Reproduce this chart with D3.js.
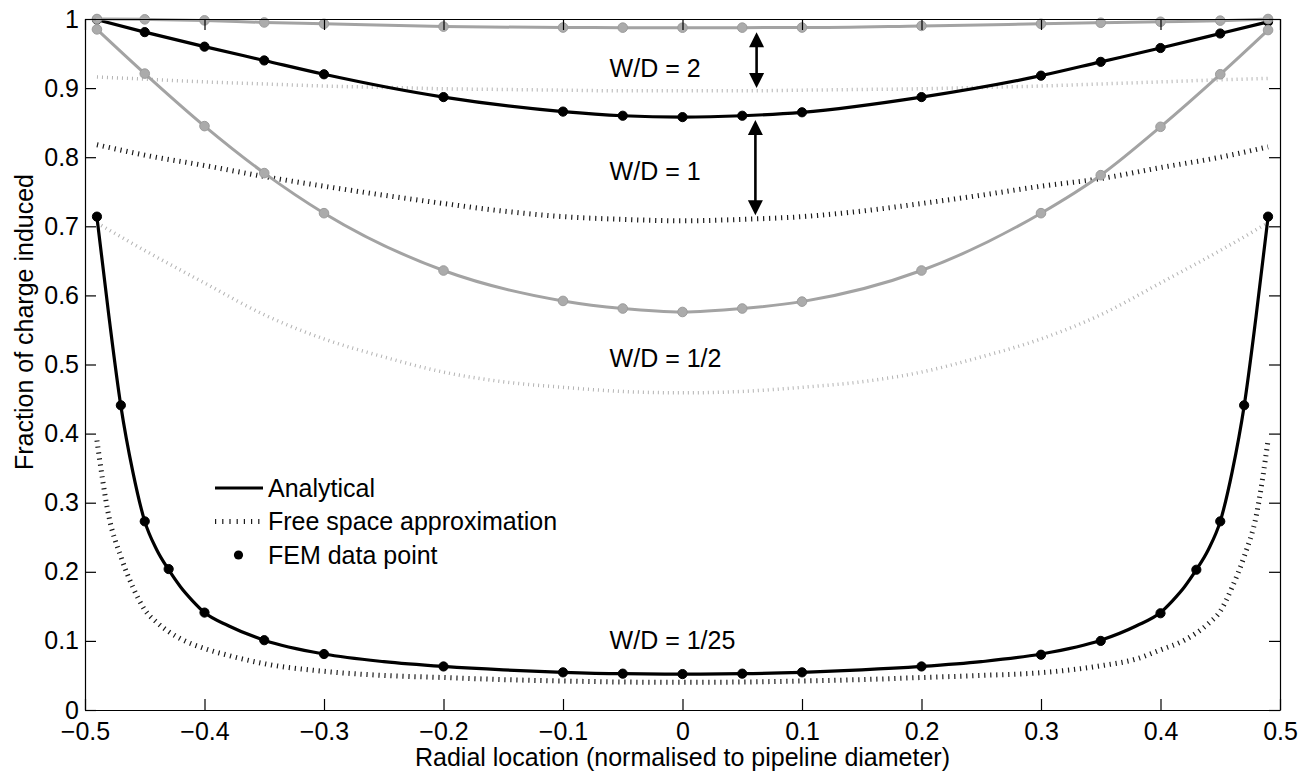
<!DOCTYPE html>
<html><head><meta charset="utf-8">
<script src="https://cdn.jsdelivr.net/npm/d3@7"></script>
<style>
body{margin:0;background:#fff}
svg text{font-family:"Liberation Sans",Arial,Helvetica,sans-serif}
</style>
</head><body>
<svg id="chart" width="1303" height="772"></svg>
<script>
// ---------- axis ticks ----------
const xTickValues = [-0.5,-0.4,-0.3,-0.2,-0.1,0,0.1,0.2,0.3,0.4,0.5];
const xTickLabels = ["\u22120.5","\u22120.4","\u22120.3","\u22120.2","\u22120.1","0","0.1","0.2","0.3","0.4","0.5"];
const yTickValues = [0,0.1,0.2,0.3,0.4,0.5,0.6,0.7,0.8,0.9,1];
const yTickLabels = ["0","0.1","0.2","0.3","0.4","0.5","0.6","0.7","0.8","0.9","1"];

// ---------- W/D = 2 (grey) ----------
const wd2X        = [-0.49,-0.45,-0.4,-0.35,-0.3,-0.2,-0.1,-0.05,0,0.05,0.1,0.2,0.3,0.35,0.4,0.45,0.49];
const wd2Analytic = [1.0,0.9995,0.998,0.995,0.993,0.989,0.9876,0.9875,0.9874,0.9875,0.9876,0.990,0.993,0.9946,0.996,0.9976,1.0];
const fsX         = [-0.49,-0.45,-0.4,-0.35,-0.3,-0.25,-0.2,-0.15,-0.1,-0.05,0,0.05,0.1,0.15,0.2,0.25,0.3,0.35,0.4,0.45,0.49];
const wd2Free     = [0.916,0.913,0.909,0.906,0.903,0.901,0.899,0.898,0.897,0.896,0.896,0.896,0.897,0.898,0.899,0.901,0.903,0.906,0.909,0.912,0.914];

// ---------- W/D = 1 (black) ----------
const wd1X        = [-0.49,-0.45,-0.4,-0.35,-0.3,-0.2,-0.1,-0.05,0,0.05,0.1,0.2,0.3,0.35,0.4,0.45,0.49];
const wd1Analytic = [0.999,0.981,0.960,0.940,0.920,0.887,0.866,0.860,0.858,0.860,0.865,0.887,0.918,0.938,0.958,0.979,0.996];
const wd1Free     = [0.818,0.803,0.788,0.772,0.758,0.745,0.733,0.722,0.714,0.710,0.708,0.710,0.714,0.722,0.733,0.745,0.758,0.769,0.785,0.800,0.815];

// ---------- W/D = 1/2 (grey) ----------
const wd05X        = [-0.49,-0.45,-0.4,-0.35,-0.3,-0.2,-0.1,-0.05,0,0.05,0.1,0.2,0.3,0.35,0.4,0.45,0.49];
const wd05Analytic = [0.985,0.921,0.845,0.777,0.719,0.636,0.592,0.581,0.576,0.581,0.591,0.636,0.719,0.774,0.844,0.920,0.984];
const wd05Free     = [0.705,0.665,0.618,0.572,0.537,0.511,0.489,0.475,0.467,0.461,0.459,0.461,0.467,0.475,0.489,0.511,0.537,0.572,0.618,0.665,0.705];

// ---------- W/D = 1/25 (black) ----------
const wd25LineX    = [-0.49,-0.48,-0.47,-0.46,-0.45,-0.44,-0.43,-0.42,-0.41,-0.4,-0.38,-0.35,-0.3,-0.25,-0.2,-0.15,-0.1,-0.05,0,0.05,0.1,0.15,0.2,0.25,0.3,0.35,0.38,0.4,0.41,0.42,0.43,0.44,0.45,0.46,0.47,0.48,0.49];
const wd25Analytic = [0.713,0.57,0.44,0.345,0.273,0.232,0.203,0.178,0.158,0.141,0.122,0.101,0.081,0.070,0.063,0.058,0.0545,0.0525,0.052,0.0525,0.0545,0.058,0.063,0.070,0.081,0.101,0.122,0.141,0.158,0.178,0.203,0.232,0.273,0.345,0.44,0.57,0.713];
const wd25FreeX    = [-0.49,-0.48,-0.47,-0.46,-0.45,-0.44,-0.42,-0.4,-0.38,-0.35,-0.3,-0.25,-0.2,-0.15,-0.1,-0.05,0,0.05,0.1,0.15,0.2,0.25,0.3,0.35,0.38,0.4,0.42,0.44,0.45,0.46,0.47,0.48,0.49];
const wd25Free     = [0.39,0.28,0.222,0.178,0.145,0.127,0.103,0.089,0.079,0.067,0.056,0.050,0.047,0.044,0.042,0.0405,0.040,0.0405,0.042,0.044,0.047,0.050,0.054,0.064,0.074,0.087,0.101,0.125,0.143,0.178,0.222,0.28,0.39];
const wd25FemX     = [-0.49,-0.47,-0.45,-0.43,-0.4,-0.35,-0.3,-0.2,-0.1,-0.05,0,0.05,0.1,0.2,0.3,0.35,0.4,0.43,0.45,0.47,0.49];
const wd25Fem      = [0.714,0.441,0.273,0.204,0.141,0.101,0.081,0.063,0.0545,0.0526,0.052,0.0526,0.0545,0.063,0.08,0.1,0.14,0.203,0.273,0.441,0.714];

// ---------- annotations ----------
const labelTexts = ["W/D = 2","W/D = 1","W/D = 1/2","W/D = 1/25"];
const labelX     = [-0.061,-0.061,-0.061,-0.061];
const labelY     = [0.9155,0.767,0.497,0.088];
const arrowX     = [0.062,0.061];
const arrowTop   = [0.981,0.854];
const arrowBot   = [0.900,0.716];
const legendLabels = ["Analytical","Free space approximation","FEM data point"];

// ---------- layout ----------
const W = 1303, H = 772;
const M = {left:85, right:1280, top:19, bottom:710};
const FONT = 25;
const svg = d3.select("#chart");
const x = d3.scaleLinear().domain([-0.5,0.5]).range([M.left,M.right]);
const y = d3.scaleLinear().domain([0,1]).range([M.bottom,M.top]);
const zip = (xs,ys)=>xs.map((v,i)=>[v,ys[i]]);
const line = d3.line().x(d=>x(d[0])).y(d=>y(d[1])).curve(d3.curveMonotoneX);

const GREY = "#a3a3a3", GREY_DOT = "#b3b3b3", GREY_MARK = "#9c9c9c";

// free space approximations (dotted)
function dotted(data, color, width, dash){
  svg.append("path").datum(data).attr("d",line)
    .attr("fill","none").attr("stroke",color).attr("stroke-width",width)
    .attr("stroke-dasharray",dash);
}
dotted(zip(fsX,wd2Free), GREY_DOT, 3.5, "1,4");
dotted(zip(fsX,wd05Free), GREY_DOT, 3.5, "1,4");
dotted(zip(fsX,wd1Free), "#1a1a1a", 5, "1.2,4.8");
dotted(zip(wd25FreeX,wd25Free), "#1a1a1a", 5, "1.2,4.8");

// analytical lines
function solid(data,color,width){
  svg.append("path").datum(data).attr("d",line)
    .attr("fill","none").attr("stroke",color).attr("stroke-width",width)
    .attr("stroke-linejoin","round");
}
solid(zip(wd1X,wd1Analytic),"#000",3.2);
solid(zip(wd25LineX,wd25Analytic),"#000",3.2);
solid(zip(wd05X,wd05Analytic),GREY,3);
solid(zip(wd2X,wd2Analytic),GREY,3);

// markers
function markers(data,fill,stroke,r){
  svg.append("g").selectAll("circle").data(data).join("circle")
    .attr("cx",d=>x(d[0])).attr("cy",d=>y(d[1])).attr("r",r)
    .attr("fill",fill).attr("stroke",stroke).attr("stroke-width",1);
}
markers(zip(wd1X,wd1Analytic),"#000","#000",4.6);
markers(zip(wd25FemX,wd25Fem),"#000","#000",4.6);
markers(zip(wd05X,wd05Analytic),"#ababab",GREY_MARK,4.8);
markers(zip(wd2X,wd2Analytic),"#ababab",GREY_MARK,4.8);

// axes box with inward ticks
const TL = 11;
function styleAxis(g){
  g.selectAll("path.domain").attr("stroke","#000").attr("stroke-width",1.2);
  g.selectAll(".tick line").attr("stroke","#000").attr("stroke-width",1.2);
  g.selectAll("text").attr("font-size",FONT).attr("fill","#000")
    .attr("font-family","'Liberation Sans',Arial,Helvetica,sans-serif");
}
svg.append("g").attr("transform",`translate(0,${M.bottom})`)
  .call(d3.axisBottom(x).tickValues(xTickValues).tickSizeInner(-TL).tickSizeOuter(0)
    .tickPadding(12).tickFormat((d,i)=>xTickLabels[i])).call(styleAxis);
svg.append("g").attr("transform",`translate(0,${M.top})`)
  .call(d3.axisTop(x).tickValues(xTickValues).tickSizeInner(-TL).tickSizeOuter(0)
    .tickFormat(()=>"")).call(styleAxis);
svg.append("g").attr("transform",`translate(${M.left},0)`)
  .call(d3.axisLeft(y).tickValues(yTickValues).tickSizeInner(-TL).tickSizeOuter(0)
    .tickPadding(6).tickFormat((d,i)=>yTickLabels[i])).call(styleAxis);
svg.append("g").attr("transform",`translate(${M.right},0)`)
  .call(d3.axisRight(y).tickValues(yTickValues).tickSizeInner(-TL).tickSizeOuter(0)
    .tickFormat(()=>"")).call(styleAxis);

// axis titles
svg.append("text").attr("x",(M.left+M.right)/2).attr("y",766)
  .attr("text-anchor","middle").attr("font-size",FONT).text("Radial location (normalised to pipeline diameter)");
svg.append("text").attr("transform","translate(33,322) rotate(-90)")
  .attr("text-anchor","middle").attr("font-size",FONT).text("Fraction of charge induced");

// W/D labels
labelTexts.forEach((t,i)=>{
  svg.append("text").attr("x",x(labelX[i])).attr("y",y(labelY[i]))
    .attr("font-size",FONT).attr("fill","#000").text(t);
});

// double arrows
const AH = 15, AW = 7.5;
arrowX.forEach((ax,i)=>{
  const px = x(ax), y1 = y(arrowTop[i]), y2 = y(arrowBot[i]);
  svg.append("line").attr("x1",px).attr("x2",px).attr("y1",y1+AH-2).attr("y2",y2-AH+2)
    .attr("stroke","#000").attr("stroke-width",2.6);
  svg.append("path").attr("d",`M${px},${y1} L${px-AW},${y1+AH} L${px+AW},${y1+AH} Z`).attr("fill","#000");
  svg.append("path").attr("d",`M${px},${y2} L${px-AW},${y2-AH} L${px+AW},${y2-AH} Z`).attr("fill","#000");
});

// legend
const lg = svg.append("g");
const rows = [488,521.5,555];
lg.append("line").attr("x1",215).attr("x2",263).attr("y1",rows[0]).attr("y2",rows[0])
  .attr("stroke","#000").attr("stroke-width",3.2);
lg.append("line").attr("x1",215).attr("x2",263).attr("y1",rows[1]).attr("y2",rows[1])
  .attr("stroke","#1a1a1a").attr("stroke-width",5).attr("stroke-dasharray","1.2,6");
lg.append("circle").attr("cx",238.5).attr("cy",rows[2]).attr("r",4.6).attr("fill","#000");
legendLabels.forEach((t,i)=>{
  lg.append("text").attr("x",268).attr("y",rows[i]).attr("dy","0.35em")
    .attr("font-size",FONT).text(t);
});
</script>
</body></html>
